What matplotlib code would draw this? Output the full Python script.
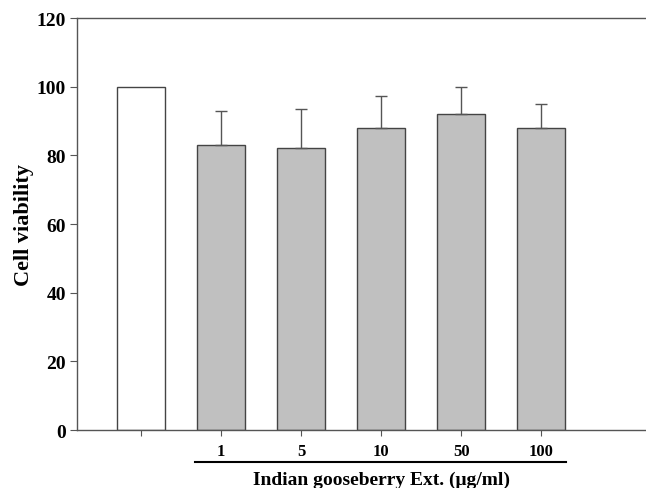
import numpy as np
import matplotlib.pyplot as plt
from matplotlib.transforms import blended_transform_factory

# Data
groups = ['', '1', '5', '10', '50', '100']
viability = [100, 83, 82, 88, 92, 88]
sd = [0, 10, 11.5, 9.3, 7.9, 7]
colors = ['white', '#c0c0c0', '#c0c0c0', '#c0c0c0', '#c0c0c0', '#c0c0c0']

plt.rcParams['font.family'] = ['Liberation Serif', 'DejaVu Serif']
plt.rcParams['font.weight'] = 'bold'

fig = plt.figure(figsize=(6.46, 4.89), dpi=100)
ax = fig.add_axes([0.1192, 0.1186, 0.8808, 0.8425])

x = np.arange(len(groups))
ax.bar(x, viability, width=0.6, color=colors, edgecolor='#444444', linewidth=1.0)
# upper error bars only
ax.errorbar(x[1:], viability[1:], yerr=[np.zeros(len(sd) - 1), sd[1:]], fmt='none',
            ecolor='#555555', elinewidth=1.0, capsize=4.3, capthick=1.0)

ax.set_xlim(-0.8, 6.31)
ax.set_ylim(0, 120)
ax.set_yticks(np.arange(0, 121, 20))
ax.set_xticks(x)
ax.set_xticklabels(groups, fontsize=12, fontweight='bold')
for lab in ax.get_yticklabels():
    lab.set_fontsize(14)
    lab.set_fontweight('bold')

ax.spines['right'].set_visible(False)
for s in ['left', 'top', 'bottom']:
    ax.spines[s].set_color('#555555')
    ax.spines[s].set_linewidth(1.0)
ax.tick_params(axis='y', direction='out', length=5, color='#555555', pad=3)
ax.tick_params(axis='x', direction='out', length=4, color='#555555', pad=5)

ax.set_ylabel('Cell viability', fontsize=16, fontweight='bold')
ax.yaxis.set_label_coords(-0.075, 0.5)

# group underline and label
trans = blended_transform_factory(ax.transData, ax.transAxes)
ax.plot([0.675, 5.31], [-0.078, -0.078], color='black', linewidth=1.5,
        transform=trans, clip_on=False)
ax.text(3, -0.119, 'Indian gooseberry Ext. (\u03bcg/ml)', transform=trans,
        ha='center', va='center', fontsize=14, fontweight='bold')

fig.savefig('out.png', dpi=100)
